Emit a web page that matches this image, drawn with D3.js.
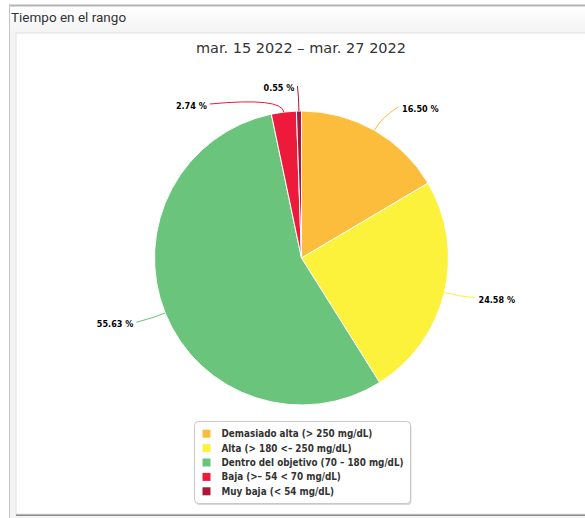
<!DOCTYPE html>
<html>
<head>
<meta charset="utf-8">
<script src="https://cdn.jsdelivr.net/npm/d3@7"></script>
<style>
  body { margin: 0; background: #fff; }
  svg { display: block; }
</style>
</head>
<body>
<svg id="chart" width="585" height="518"></svg>
<script>
var panelTitle = "Tiempo en el rango";
var chartTitle = "mar. 15 2022 – mar. 27 2022";

var categories = [
    "Demasiado alta (> 250 mg/dL)",
    "Alta (> 180 <= 250 mg/dL)",
    "Dentro del objetivo (70 - 180 mg/dL)",
    "Baja (>= 54 < 70 mg/dL)",
    "Muy baja (< 54 mg/dL)"
];
var legendLabels = [
    "Demasiado alta (> 250 mg/dL)",
    "Alta (> 180 <\u2013 250 mg/dL)",
    "Dentro del objetivo (70 \u2013 180 mg/dL)",
    "Baja (>\u2013 54 < 70 mg/dL)",
    "Muy baja (< 54 mg/dL)"
];
var values = [16.50, 24.58, 55.63, 2.74, 0.55];
var colors = ["#fbbd3b", "#fdf23b", "#6bc47b", "#ed1a3b", "#ab1837"];

var svg = d3.select("#chart");
var W = 585, H = 518;

// Panel frame
var defs = svg.append("defs");
var grad = defs.append("linearGradient").attr("id", "hdr").attr("x1", 0).attr("x2", 0).attr("y1", 0).attr("y2", 1);
grad.append("stop").attr("offset", "0%").attr("stop-color", "#ffffff");
grad.append("stop").attr("offset", "100%").attr("stop-color", "#f3f3f3");

svg.append("rect").attr("x", 9).attr("y", 5).attr("width", W).attr("height", H)
    .attr("fill", "#f4f4f4");
svg.append("rect").attr("x", 10).attr("y", 6).attr("width", W).attr("height", 27)
    .attr("fill", "url(#hdr)");
svg.append("line").attr("x1", 9).attr("x2", W).attr("y1", 5.5).attr("y2", 5.5)
    .style("stroke", "#b4b4b4").style("stroke-width", 2);
svg.append("line").attr("x1", 9.5).attr("x2", 9.5).attr("y1", 5).attr("y2", H)
    .style("stroke", "#c4c4c4").style("stroke-width", 1);

svg.append("text")
    .attr("x", 11).attr("y", 22)
    .style("font-family", "Roboto, sans-serif").style("font-size", "13.5px")
    .style("fill", "#333")
    .text(panelTitle);

// Card
svg.append("rect").attr("x", 16).attr("y", 33).attr("width", W).attr("height", 483)
    .attr("fill", "#8c8c8c");
svg.append("rect").attr("x", 16).attr("y", 33).attr("width", W).attr("height", 481)
    .attr("fill", "#fff").attr("stroke", "#e2e2e2").attr("stroke-width", 1);

svg.append("text")
    .attr("x", 301).attr("y", 53)
    .attr("text-anchor", "middle")
    .style("font-family", "'DejaVu Sans', sans-serif").style("font-size", "14.5px")
    .style("fill", "#333")
    .text(chartTitle);

// Pie
var cx = 301.5, cy = 258, radius = 147, labelDistance = 30;
var pie = d3.pie().sort(null).value(d => d);
var arcs = pie(values);
var arc = d3.arc().innerRadius(0).outerRadius(radius);

var g = svg.append("g").attr("transform", "translate(" + cx + "," + cy + ")");
g.selectAll("path.slice")
    .data(arcs)
    .enter().append("path")
    .attr("class", "slice")
    .attr("d", arc)
    .attr("fill", (d, i) => colors[i])
    .attr("stroke", "#fff")
    .attr("stroke-width", 1)
    .attr("stroke-linejoin", "round");

// Label layout (Highcharts-like)
var R = radius + labelDistance;
var labelTop = cy - R + 7;
var spacing = 18;
var fmt = d3.format(".2f");
var labels = arcs.map(function (d, i) {
    var a = (d.startAngle + d.endAngle) / 2;
    return {
        i: i, a: a,
        left: Math.sin(a) < 0,
        ny: cy - R * Math.cos(a),
        nx: cx + R * Math.sin(a)
    };
});
[true, false].forEach(function (side) {
    var list = labels.filter(l => l.left === side).sort((p, q) => p.ny - q.ny);
    var prev = -Infinity;
    var top = side ? labelTop : labelTop + 21;
    list.forEach(function (l) {
        l.y = Math.max(l.ny, prev + spacing, top);
        prev = l.y;
        var yy = side && l.y <= top + 2 ? l.ny : l.y;
        var dx = Math.sqrt(Math.max(0, R * R - (yy - cy) * (yy - cy)));
        l.x = cx + (side ? -dx : dx);
    });
});

labels.forEach(function (l) {
    var dir = l.left ? -1 : 1;
    var touch = [cx + radius * Math.sin(l.a), cy - radius * Math.cos(l.a)];
    var brk = [cx + (radius + labelDistance / 2) * Math.sin(l.a), cy - (radius + labelDistance / 2) * Math.cos(l.a)];
    var start = [l.x + dir * 1, l.y - 2];
    var path = d3.path();
    path.moveTo(start[0], start[1]);
    path.quadraticCurveTo(brk[0], brk[1], touch[0], touch[1]);
    svg.append("path")
        .attr("d", path.toString())
        .attr("fill", "none")
        .style("stroke", colors[l.i])
        .style("stroke-width", 1);

    svg.append("text")
        .attr("x", l.x + (l.left ? -4 : 5))
        .attr("y", l.y)
        .attr("dy", "0.35em")
        .attr("text-anchor", l.left ? "end" : "start")
        .style("font-family", "'DejaVu Sans Condensed', 'DejaVu Sans', sans-serif")
        .style("font-size", "9px")
        .style("font-weight", "bold")
        .style("fill", "#000")
        .text(fmt(values[l.i]) + " %");
});

// Legend
var legendX = 194.5, legendY = 421.5, legendW = 216, legendH = 82;
svg.append("rect")
    .attr("x", legendX + 1).attr("y", legendY + 1.5)
    .attr("width", legendW).attr("height", legendH)
    .attr("rx", 4).attr("fill", "#d8d8d8");
svg.append("rect")
    .attr("x", legendX).attr("y", legendY)
    .attr("width", legendW).attr("height", legendH)
    .attr("rx", 4).attr("fill", "#fff")
    .attr("stroke", "#c8c8c8").attr("stroke-width", 1);

var ly = d3.scaleBand().domain(d3.range(categories.length))
    .range([legendY + 5, legendY + 5 + 14.4 * categories.length]);

var items = svg.selectAll("g.item")
    .data(categories)
    .enter().append("g")
    .attr("class", "item")
    .attr("transform", (d, i) => "translate(" + legendX + "," + (ly(i) + ly.bandwidth() / 2) + ")");

items.append("rect")
    .attr("x", 8).attr("y", -4)
    .attr("width", 8).attr("height", 8)
    .attr("fill", (d, i) => colors[i]);

items.append("text")
    .attr("x", 27).attr("y", 0)
    .attr("dy", "0.35em")
    .style("font-family", "'DejaVu Sans Condensed', 'DejaVu Sans', sans-serif")
    .style("font-size", "9.8px")
    .style("font-weight", "bold")
    .style("fill", "#333")
    .text((d, i) => legendLabels[i]);
</script>
</body>
</html>
